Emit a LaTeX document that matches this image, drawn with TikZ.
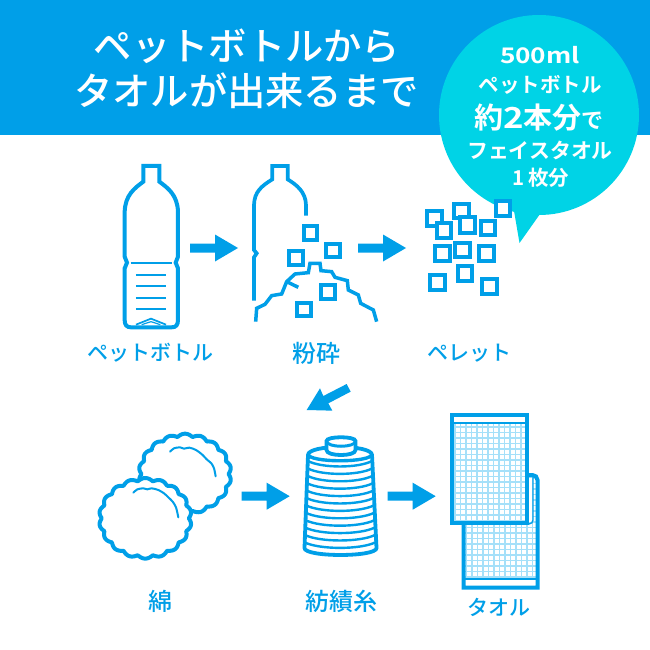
\documentclass[tikz,border=0pt]{standalone}
\usepackage{fontspec}
\setmainfont{Noto Sans CJK JP Medium}
\newfontfamily\jpbold{Noto Sans CJK JP Bold}
\definecolor{hdr}{HTML}{009FE8}
\definecolor{bub}{HTML}{00D3E6}
\definecolor{gridc}{HTML}{A5E0F9}
\begin{document}
\begin{tikzpicture}[x=1pt,y=-1pt,
  ln/.style={draw=hdr,line width=4pt,line join=miter},
  thin ln/.style={draw=hdr,line width=2.3pt},
  sq/.style={draw=hdr,line width=4.1pt,fill=white},
  grd/.style={draw=gridc,line width=1.5pt},
  title/.style={text=white,font=\fontsize{38.3}{40}\selectfont,inner sep=0pt},
  lbl/.style={text=hdr,font=\fontsize{21}{24}\selectfont,inner sep=0pt},
  lblk/.style={text=hdr,font=\fontsize{24}{26}\selectfont,inner sep=0pt},
  bt/.style={text=white,inner sep=0pt},
  rightblock/.pic={\fill[hdr] (0,-4.5)--(25,-4.5)--(25,-13.5)--(48,0)--(25,13.5)--(25,4.5)--(0,4.5)--cycle;}
]
\useasboundingbox (0,0) rectangle (650,650);
\fill[white] (0,0) rectangle (650,650);
\fill[hdr] (0,0) rectangle (650,135);
\node[title] (t1) at (247,46) {ペットボトルから};
\node[title] (t2) at (246.5,91) {タオルが出来るまで};
% bubble
\fill[bub] (539,115) circle (100);
\fill[bub] (513,205) -- (519.5,243) -- (540,214) -- cycle;
\node[bt] (b1) at (540,55) {\jpbold\fontsize{21.5}{24}\selectfont\scalebox{1.22}[1]{500ml}};
\node[bt] (b2) at (540,85) {\jpbold\fontsize{20.5}{24}\selectfont ペットボトル};
\node[bt] (b3) at (539,118) {\jpbold\fontsize{29}{32}\selectfont 約\scalebox{1.2}[1]{2}本分\fontsize{22}{24}\selectfont で};
\node[bt] (b4) at (540,150) {\jpbold\fontsize{20.9}{24}\selectfont フェイスタオル};
\node[bt] (b5) at (541,178) {\jpbold\fontsize{20.5}{24}\selectfont 1\,枚分};
% bottle
\begin{scope}[x=.3333pt,y=-.3333pt,shift={(100pt,-150pt)}]
\draw[ln] (130,48) -- (178,48) -- (178,95) .. controls (205,115) and (232,135) .. (234,185) -- (234,320) -- (227,338) -- (234,355) -- (234,510) .. controls (234,525) and (228,532) .. (215,532) -- (93,532) .. controls (80,532) and (74,525) .. (74,510) -- (74,355) -- (81,338) -- (74,320) -- (74,185) .. controls (76,135) and (103,115) .. (130,95) -- cycle;
\draw[thin ln] (92,338) -- (215,338);
\foreach \yy in {375,409,444,478} \draw[thin ln] (108,\yy) -- (198,\yy);
\draw[draw=hdr,line width=1.7pt] (108,524) -- (153,506) -- (198,524);
\draw[draw=hdr,line width=1.2pt] (125,524) -- (153,515) -- (181,524);
\end{scope}
\pic at (190,248) {rightblock};
% crushed bottle
\begin{scope}[x=.3333pt,y=-.3333pt,shift={(240pt,-150pt)}]
\draw[ln,line width=3.7pt] (198,197) -- (198,165) .. controls (197,125) and (170,105) .. (143,88) -- (143,48) -- (97,48) -- (97,88) .. controls (65,108) and (43,125) .. (42,165) -- (42,300) -- (50,310) -- (42,322) -- (42,452);
\draw[ln,line width=3.5pt] (47,515) -- (50,475) -- (75,463) -- (95,437) -- (125,432) -- (140,395) -- (165,372) -- (205,368) -- (210,340) -- (240,340) -- (243,362) -- (275,365) -- (285,382) -- (322,392) -- (325,420) -- (355,435) -- (362,460) -- (400,480) -- (410,515);
\draw[ln,line width=3.5pt] (140,395) -- (175,412);
\foreach \a/\b/\c/\d in {185/222/238/275,252/276/305/328,142/298/195/350,238/400/290/452,164/452/218/505}
  \draw[sq] (\a+6.1,\b+6.1) rectangle (\c-6.1,\d-6.1);
% pellets
\foreach \a/\b/\c/\d in {556/178/612/235,637/155/692/210,762/148/816/205,586/214/640/270,655/196/710/254,718/206/772/262,580/283/636/340,640/272/696/328,712/283/768/340,648/342/703/398,565/368/622/426,720/382/776/438}
  \draw[sq] (\a+6.1,\b+6.1) rectangle (\c-6.1,\d-6.1);
\end{scope}
\pic at (358,248) {rightblock};
\node[lbl] (l1) at (150,353) {ペットボトル};
\node[lblk] (l2) at (316,353) {粉砕};
\node[lbl] (l3) at (469,353) {ペレット};
% diagonal arrow
\begin{scope}[x=.3333pt,y=-.3333pt,shift={(295pt,-370pt)}]
\fill[hdr] (35,120) -- (75,55) -- (85,78) -- (155,42) -- (167,65) -- (100,100) -- (112,122) -- cycle;
\end{scope}
% cotton
\draw[ln,fill=white,line join=round,line width=4pt] plot[domain=0:360,samples=361] ({185+(43.5+2.8*abs(sin(9*\x)))*cos(\x)},{474+(37.5+2.8*abs(sin(9*\x)))*sin(\x)}) -- cycle;
\draw[ln,fill=white,line join=round,line width=4pt] plot[domain=0:360,samples=361] ({145.3+(43.5+2.8*abs(sin(9*\x)))*cos(\x)},{518.3+(37.5+2.8*abs(sin(9*\x)))*sin(\x)}) -- cycle;
\begin{scope}[x=.3333pt,y=-.3333pt,shift={(90pt,-400pt)}]
\draw[draw=hdr,line width=2pt,line cap=round] plot[smooth] coordinates {(130,278)(142,268)(160,265)(172,268)(185,265)(205,270)(222,280)(235,292)(248,305)(258,322)(265,352)};
\draw[draw=hdr,line width=2pt,line cap=round] plot[smooth] coordinates {(240,155)(252,145)(270,142)(282,146)(298,143)(318,150)(338,165)(350,178)(364,190)(372,205)(377,229)};
\end{scope}
\pic at (241.7,496.2) {rightblock};
% spool
\draw[ln,fill=white,line width=3.8pt] (308,455) -- (304.5,548) .. controls (304.5,557.3) and (376.5,557.3) .. (376.5,548) -- (372,455) .. controls (372,444.3) and (308,444.3) .. cycle;
\foreach \yy in {0,...,11}
  \draw[draw=hdr,line width=2.4pt] ({308-\yy*0.3},{461+\yy*7.4}) .. controls ({322-\yy*0.2},{468.3+\yy*7.4}) and ({358+\yy*0.2},{468.3+\yy*7.4}) .. ({372+\yy*0.3},{461+\yy*7.4});
\draw[ln,line width=3.4pt] (308,454) .. controls (308,463) and (372,463) .. (372,454);
\draw[ln,fill=white,line width=3.8pt] (326.5,441) -- (326.5,450) .. controls (326.5,456.7) and (355.5,456.7) .. (355.5,450) -- (355.5,441) .. controls (355.5,436) and (326.5,436) .. cycle;
\draw[ln,line width=3pt] (326.5,441) .. controls (326.5,448) and (355.5,448) .. (355.5,441);
\pic at (387.7,496.2) {rightblock};
% back towel
\fill[white] (463.5,475) rectangle (537.5,587.5);
\foreach \xx in {466.5,472,...,536} \draw[grd] (\xx,477) -- (\xx,578);
\foreach \yy in {478,483.5,...,577} \draw[grd] (465,\yy) -- (536,\yy);
\draw[ln] (463.5,520) -- (463.5,587.5) -- (537.5,587.5) -- (537.5,480) [rounded corners=5pt] -- (537.5,475) -- (525,475);
\draw[thin ln,line width=1.6pt] (465,579) -- (536,579);
\fill[white] (465.6,580.2) rectangle (535.4,585.4);
% thin return line
\fill[white] (529,478) rectangle (532.2,522);
\draw[draw=hdr,line width=1.4pt,rounded corners=4pt] (533,474) -- (533,524) -- (525,524);
% front towel
\fill[white] (452,415) rectangle (527,523);
\foreach \xx in {455,460.5,...,526} \draw[grd] (\xx,424) -- (\xx,521);
\foreach \yy in {427,432.5,...,521} \draw[grd] (454,\yy) -- (525,\yy);
\draw[thin ln,line width=1.6pt] (453,423) -- (526,423);
\draw[ln] (452,415) rectangle (527,523);
\node[lblk] (l4) at (160,601.5) {綿};
\node[lblk] (l5) at (341,601.5) {紡績糸};
\node[lbl] (l6) at (499,607) {タオル};
\end{tikzpicture}
\end{document}
